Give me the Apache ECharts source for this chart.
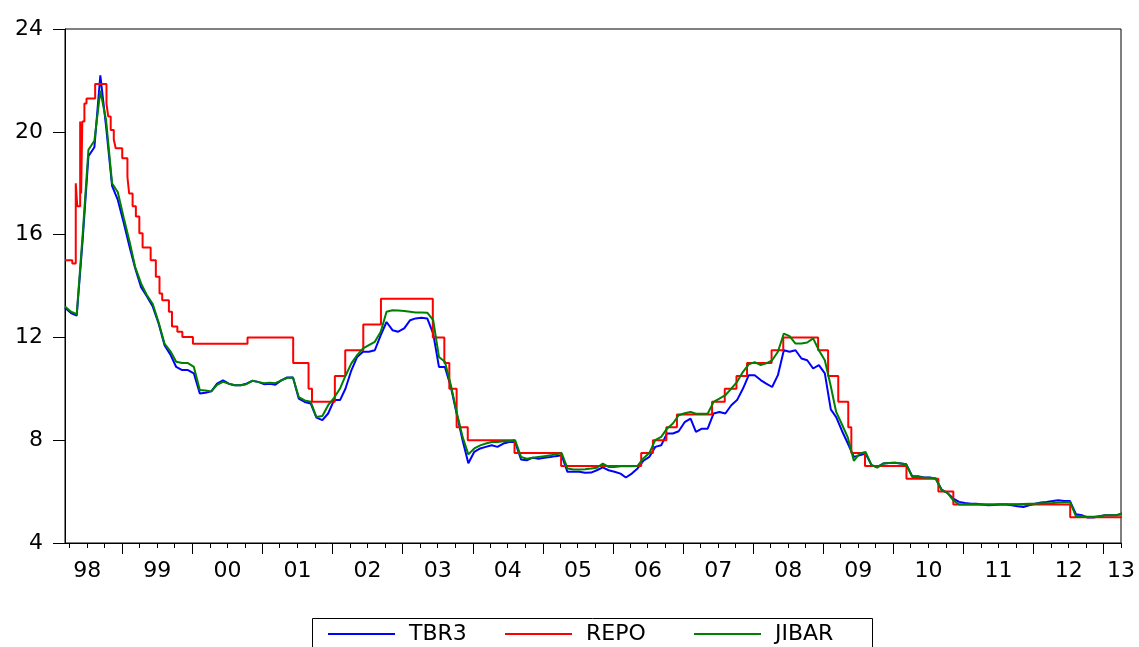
<!DOCTYPE html>
<html>
<head>
<meta charset="utf-8">
<script src="https://cdn.jsdelivr.net/npm/echarts@6/dist/echarts.min.js"></script>
<style>
html,body{margin:0;padding:0;background:#fff;}
#chart{width:1139px;height:647px;}
</style>
</head>
<body>
<div id="chart"></div>
<script>
// ---------- DATA ----------
// Monthly observations (9th of each month) starting March 1998
const seriesStart = '1998-03-09';
const tbr3 = [
13.15,12.95,12.85,15.8,19.05,19.4,22.2,20.2,17.9,17.35,16.45,15.5,
14.7,13.95,13.6,13.2,12.55,11.7,11.33,10.85,10.73,10.73,10.6,9.82,
9.85,9.9,10.2,10.33,10.2,10.14,10.14,10.2,10.31,10.27,10.18,10.2,
10.16,10.33,10.44,10.44,9.62,9.49,9.43,8.88,8.78,9.04,9.56,9.56,
10.0,10.72,11.24,11.44,11.44,11.5,12.09,12.6,12.28,12.22,12.35,12.67,
12.74,12.76,12.74,12.15,10.85,10.85,10.07,9.04,8.0,7.1,7.55,7.68,
7.74,7.8,7.74,7.87,7.93,7.93,7.25,7.22,7.32,7.28,7.32,7.35,
7.38,7.41,6.77,6.77,6.77,6.73,6.74,6.83,6.94,6.83,6.77,6.7,
6.55,6.7,6.9,7.2,7.35,7.74,7.8,8.26,8.26,8.35,8.7,8.84,
8.32,8.45,8.45,9.04,9.1,9.04,9.36,9.56,10.01,10.53,10.53,10.34,
10.2,10.07,10.53,11.5,11.44,11.5,11.18,11.11,10.79,10.92,10.6,9.2,
8.9,8.35,7.87,7.35,7.41,7.48,7.03,6.96,7.09,7.11,7.12,7.09,
7.06,6.6,6.6,6.55,6.55,6.51,6.08,5.95,5.73,5.6,5.56,5.53,
5.53,5.5,5.47,5.48,5.5,5.5,5.47,5.43,5.4,5.47,5.53,5.58,
5.6,5.63,5.66,5.63,5.63,5.12,5.08,4.99,4.99,5.04,5.08,5.08,
5.08,5.15
];
const jibar = [
13.2,13.0,12.9,16.0,19.3,19.65,21.6,20.45,18.0,17.65,16.65,15.7,
14.75,14.1,13.65,13.3,12.6,11.76,11.46,11.05,11.0,11.0,10.85,9.95,
9.93,9.9,10.15,10.27,10.2,10.14,10.14,10.18,10.31,10.27,10.22,10.24,
10.22,10.33,10.42,10.44,9.68,9.55,9.5,8.9,8.94,9.36,9.65,10.01,
10.5,10.99,11.31,11.57,11.7,11.83,12.22,13.0,13.06,13.05,13.03,13.0,
12.97,12.97,12.96,12.67,11.24,11.05,10.14,9.1,8.13,7.45,7.68,7.8,
7.87,7.93,7.93,7.96,7.96,8.0,7.35,7.28,7.32,7.35,7.38,7.41,
7.45,7.5,6.9,6.86,6.86,6.87,6.9,6.93,7.09,6.96,6.96,6.99,
6.99,6.99,7.0,7.3,7.5,8.0,8.13,8.45,8.65,8.97,9.05,9.1,
9.03,9.03,9.03,9.49,9.62,9.75,10.01,10.27,10.66,10.95,11.04,10.92,
10.99,11.11,11.44,12.15,12.05,11.76,11.76,11.8,11.96,11.5,11.11,10.1,
9.1,8.6,8.1,7.2,7.48,7.54,7.03,6.93,7.09,7.11,7.12,7.09,
7.06,6.57,6.57,6.55,6.54,6.51,6.05,5.95,5.66,5.5,5.5,5.5,
5.5,5.5,5.5,5.5,5.51,5.51,5.51,5.51,5.52,5.53,5.53,5.55,
5.55,5.56,5.58,5.59,5.6,5.04,5.04,5.02,5.02,5.04,5.08,5.08,
5.08,5.15
];
// Repo rate: date of each change and the new rate
const repoDates = [
'1998-03-09','1998-04-16','1998-05-04','1998-05-12','1998-05-27','1998-06-01','1998-06-07','1998-06-18','1998-06-29','1998-08-13',
'1998-10-11','1998-10-20','1998-11-02','1998-11-18','1998-11-28','1999-01-01','1999-01-28','1999-02-06','1999-02-24','1999-03-13',
'1999-03-31','1999-04-17','1999-05-29','1999-06-25','1999-07-14','1999-07-28','1999-09-01','1999-09-17','1999-10-15','1999-11-10',
'2000-01-04','2000-10-15','2001-06-10','2001-08-29','2001-09-16','2002-01-13','2002-03-08','2002-06-10','2002-09-10','2003-06-07',
'2003-08-06','2003-09-01','2003-10-09','2003-12-06','2004-08-06','2005-04-06','2006-05-28','2006-07-28','2006-10-06','2006-11-30',
'2007-06-01','2007-08-06','2007-10-06','2007-11-30','2008-04-06','2008-06-06','2008-12-05','2009-01-26','2009-03-20','2009-05-11',
'2009-05-27','2009-08-06','2010-03-10','2010-08-23','2010-11-09','2012-07-10','2013-04-09'
];
const repoValues = [
15.0,14.88,18.0,17.1,20.4,17.6,20.4,21.1,21.3,21.86,
21.1,20.6,20.07,19.7,19.36,18.97,18.25,17.6,17.1,16.7,
16.05,15.5,15.0,14.36,13.71,13.45,13.0,12.42,12.22,12.02,
11.75,12.0,11.0,10.0,9.5,10.5,11.5,12.5,13.5,12.0,
11.0,10.0,8.5,8.0,7.5,7.0,7.5,8.0,8.5,9.0,
9.5,10.0,10.5,11.0,11.5,12.0,11.5,10.5,9.5,8.5,
7.5,7.0,6.5,6.0,5.5,5.0,5.0
];
const seriesNames = ['TBR3', 'REPO', 'JIBAR'];
const yearLabels = ['98','99','00','01','02','03','04','05','06','07','08','09','10','11','12','13'];
const axisStart = '1998-03-09';
const axisEnd = '2013-04-01';
const yTicks = [4, 8, 12, 16, 20, 24];

// ---------- HELPERS ----------
function decYear(y, m, d) {
  const a = Date.UTC(y, 0, 1), b = Date.UTC(y + 1, 0, 1);
  return y + (Date.UTC(y, m - 1, d) - a) / (b - a);
}
function parseDec(s) {
  const p = s.split('-').map(Number);
  return decYear(p[0], p[1], p[2]);
}
function monthly(values, start) {
  const p = start.split('-').map(Number);
  return values.map(function (v, i) {
    const dt = new Date(Date.UTC(p[0], p[1] - 1 + i, p[2]));
    return [decYear(dt.getUTCFullYear(), dt.getUTCMonth() + 1, dt.getUTCDate()), v];
  });
}
const xMin = parseDec(axisStart);
const xMax = parseDec(axisEnd);
const firstYear = 1998;
const yearTicks = [], quarterTicks = [];
for (let y = firstYear; y <= 2013; y++) {
  for (let m = 1; m <= 10; m += 3) {
    const t = decYear(y, m, 1);
    if (t < xMin - 1e-9 || t > xMax + 1e-9) continue;
    if (m === 1) yearTicks.push(t); else quarterTicks.push(t);
  }
}
const labelPos = yearLabels.map(function (s, i) {
  return i < yearLabels.length - 1 ? firstYear + i + 0.5 : xMax;
});
function labelFor(v) {
  let best = 0;
  for (let i = 1; i < labelPos.length; i++) {
    if (Math.abs(labelPos[i] - v) < Math.abs(labelPos[best] - v)) best = i;
  }
  return yearLabels[best];
}

const FONT = 'DejaVu Sans';
const legendLefts = [328, 505, 694];
function makeLegend(name, i) {
  return {
    data: [name],
    left: legendLefts[i], top: 623,
    padding: 0,
    itemWidth: 67, itemHeight: 2,
    icon: 'rect',
    formatter: function (n) { return '{t|' + n + '}'; },
    textStyle: {
      fontFamily: FONT, fontSize: 22, color: '#000',
      rich: {t: {padding: [0, 0, 0, 9], fontFamily: FONT, fontSize: 22, color: '#000'}}
    }
  };
}
const chart = echarts.init(document.getElementById('chart'), null, {renderer: 'canvas'});
chart.setOption({
  animation: false,
  backgroundColor: '#fff',
  grid: {left: 65, right: 18, top: 29, bottom: 104, show: true, borderColor: '#000', borderWidth: 1, backgroundColor: 'transparent'},
  graphic: [{
    type: 'rect', silent: true,
    shape: {x: 312.5, y: 618.5, width: 560, height: 40},
    style: {fill: 'none', stroke: '#000', lineWidth: 1}
  }],
  legend: seriesNames.map(makeLegend),
  xAxis: [{
    type: 'value', min: xMin, max: xMax, position: 'bottom',
    axisLine: {show: true, lineStyle: {color: '#000', width: 1}},
    axisTick: {show: true, customValues: yearTicks, length: 11, lineStyle: {color: '#000', width: 1}},
    axisLabel: {show: true, customValues: labelPos, formatter: labelFor, margin: 17,
      fontFamily: FONT, fontSize: 22, color: '#000'},
    splitLine: {show: false}
  }, {
    type: 'value', min: xMin, max: xMax, position: 'bottom',
    axisLine: {show: false},
    axisTick: {show: true, customValues: quarterTicks, length: 5, lineStyle: {color: '#000', width: 1}},
    axisLabel: {show: false},
    splitLine: {show: false}
  }],
  yAxis: {
    type: 'value', min: yTicks[0], max: yTicks[yTicks.length - 1], interval: 4,
    axisLine: {show: true, lineStyle: {color: '#000', width: 1}},
    axisTick: {show: true, length: 12, lineStyle: {color: '#000', width: 1}},
    axisLabel: {margin: 22, fontFamily: FONT, fontSize: 22, color: '#000'},
    splitLine: {show: false}
  },
  series: [{
    name: 'TBR3', type: 'line', xAxisIndex: 0, showSymbol: false, symbol: 'none',
    data: monthly(tbr3, seriesStart),
    lineStyle: {color: '#0000ff', width: 2}, itemStyle: {color: '#0000ff'}
  }, {
    name: 'REPO', type: 'line', xAxisIndex: 0, showSymbol: false, symbol: 'none', step: 'end',
    data: repoDates.map(function (d, i) { return [parseDec(d), repoValues[i]]; }),
    lineStyle: {color: '#ff0000', width: 2}, itemStyle: {color: '#ff0000'}
  }, {
    name: 'JIBAR', type: 'line', xAxisIndex: 0, showSymbol: false, symbol: 'none',
    data: monthly(jibar, seriesStart),
    lineStyle: {color: '#008000', width: 2}, itemStyle: {color: '#008000'}
  }]
});
</script>
</body>
</html>
